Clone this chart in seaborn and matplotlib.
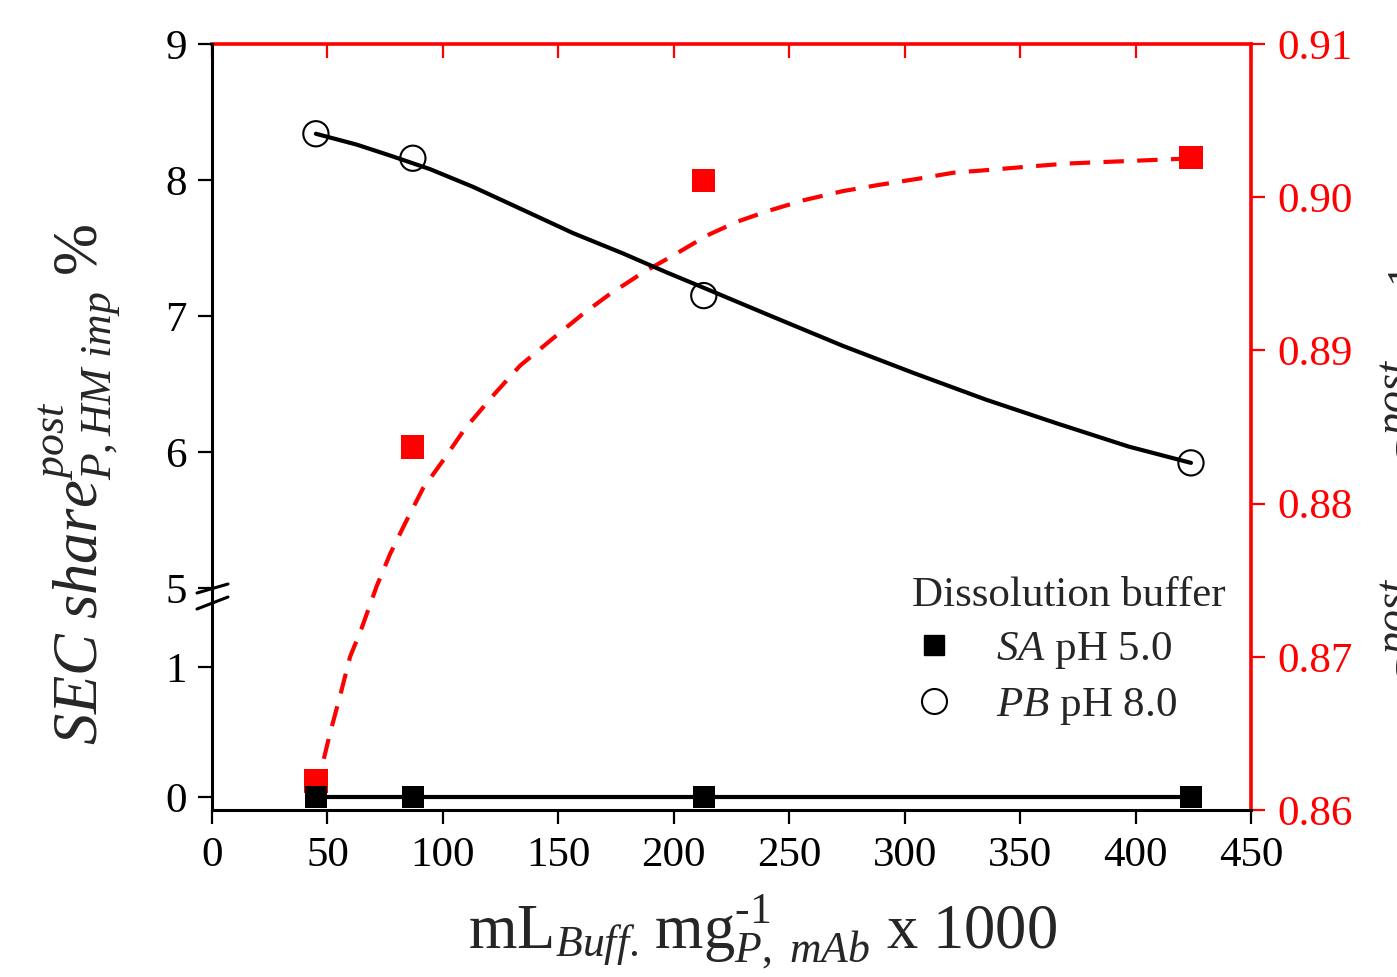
import numpy as np
import pandas as pd
import matplotlib
matplotlib.use("Agg")
import matplotlib.pyplot as plt
from matplotlib.lines import Line2D
import seaborn as sns

# ---------------- data ----------------
x_pts = [45, 87, 213, 424]
sa_share = [0.0, 0.0, 0.0, 0.0]
pb_share = [8.34, 8.16, 7.15, 5.92]
red_ratio = [0.8619, 0.8837, 0.9011, 0.9026]

# fitted curve for PB
pb_fit_x = [45, 62.7, 77.1, 94.4, 113, 134.7, 156.3, 178, 197, 212.6, 242.1,
            273.3, 304, 335.2, 366, 397, 424]
pb_fit_y = [8.34, 8.26, 8.18, 8.08, 7.95, 7.78, 7.61, 7.46, 7.32, 7.21, 7.00,
            6.78, 6.58, 6.385, 6.21, 6.04, 5.92]

# fitted curve for the red series
red_fit_x = [45, 51.1, 55.4, 59.8, 64.9, 71.3, 77.1, 83.6, 91.4, 100, 109.6,
             122.6, 133.4, 147.8, 160.8, 171.6, 186.8, 199.8, 214.4, 227.4,
             240.8, 256.2, 273.3, 288.7, 305.7, 321.2, 338.2, 353.7, 370.7,
             386.7, 403.2, 418.6, 424]
red_fit_y = [0.8612, 0.8650, 0.8674, 0.8700, 0.8719, 0.8746, 0.8767, 0.8787,
             0.8810, 0.8828, 0.8849, 0.8872, 0.8890, 0.8908, 0.8924, 0.8936,
             0.8951, 0.8962, 0.8975, 0.8984, 0.8991, 0.8998, 0.9004, 0.9008,
             0.9012, 0.9016, 0.9018, 0.9020, 0.9022, 0.9023, 0.9024, 0.9025,
             0.9026]

x_ticks = [0, 50, 100, 150, 200, 250, 300, 350, 400, 450]
left_ticks = [0, 1, 5, 6, 7, 8, 9]
right_ticks = [0.86, 0.87, 0.88, 0.89, 0.90, 0.91]
right_ticklabels = ["0.86", "0.87", "0.88", "0.89", "0.90", "0.91"]
legend_title = "Dissolution buffer"
legend_labels = [r"$SA$ pH 5.0", r"$PB$ pH 8.0"]

# ---------------- style ----------------
sns.set_theme(style="ticks")
plt.rcParams["font.family"] = ["Liberation Serif", "DejaVu Serif"]
plt.rcParams["mathtext.fontset"] = "custom"
plt.rcParams["mathtext.rm"] = "Liberation Serif"
plt.rcParams["mathtext.it"] = "Liberation Serif:italic"
plt.rcParams["mathtext.bf"] = "Liberation Serif:bold"
plt.rcParams["lines.solid_joinstyle"] = "round"

W, H = 1397, 977
fig = plt.figure(figsize=(W / 100, H / 100), dpi=100)
L, R, T, B = 212, 1251, 44, 810
ax = fig.add_axes([L / W, 1 - B / H, (R - L) / W, (B - T) / H])
ax2 = ax.twinx()

# broken-axis scale for the left axis (piecewise linear)
_v = np.array([-0.1, 1.5, 4.9, 9.0])
_p = np.array([0.0, 208.0, 208.4, 766.0])


def fwd(v):
    return np.interp(v, _v, _p)


def inv(p):
    return np.interp(p, _p, _v)


ax.set_yscale("function", functions=(fwd, inv))
ax.set_ylim(-0.1, 9.0)
ax.set_xlim(0, 450)
ax2.set_ylim(0.86, 0.91)

# red series on twin axis (drawn beneath)
ax.set_zorder(ax2.get_zorder() + 1)
ax.patch.set_visible(False)

LW = 3.0
sns.lineplot(x=red_fit_x, y=red_fit_y, ax=ax2, color="red", linewidth=LW,
             sort=False, estimator=None)
ax2.lines[-1].set_dashes([4.9, 3.2])
sns.scatterplot(x=x_pts, y=red_ratio, ax=ax2, marker="s", s=280, color="red",
                edgecolor="none", linewidth=0, zorder=3)

# black series on left axis
sns.lineplot(x=pb_fit_x, y=pb_fit_y, ax=ax, color="black", linewidth=LW,
             sort=False, estimator=None)
sns.lineplot(x=x_pts, y=sa_share, ax=ax, color="black", linewidth=LW,
             sort=False, estimator=None)
sns.scatterplot(x=x_pts, y=sa_share, ax=ax, marker="s", s=260, color="black",
                edgecolor="none", linewidth=0, zorder=4)
ax.scatter(x_pts, pb_share, marker="o", s=330, facecolors="none",
           edgecolors="black", linewidths=1.5, zorder=4)

# ---------------- axes styling ----------------
fs = 31
ax.set_xticks(x_ticks)
ax.set_xticklabels([str(t) for t in x_ticks])
ax.set_yticks(left_ticks)
ax.set_yticklabels([str(t) for t in left_ticks])
ax.yaxis.set_minor_locator(matplotlib.ticker.NullLocator())
ax.tick_params(axis="both", which="major", direction="out", length=10,
               width=1.6, labelsize=fs, color="black", labelcolor="black")
ax.tick_params(axis="x", pad=9)
ax.tick_params(axis="y", pad=8)
for s in ["top", "right"]:
    ax.spines[s].set_visible(False)
for s in ["left", "bottom"]:
    ax.spines[s].set_linewidth(2.2)
    ax.spines[s].set_color("black")

ax2.set_yticks(right_ticks)
ax2.set_yticklabels(right_ticklabels)
ax2.tick_params(axis="y", direction="out", length=10, width=1.6,
                labelsize=fs, color="red", labelcolor="red", pad=9)
for s in ["left", "bottom"]:
    ax2.spines[s].set_visible(False)
for s in ["top", "right"]:
    ax2.spines[s].set_color("red")
    ax2.spines[s].set_linewidth(2.6)
ax2.set_ylabel("")

secx = ax.secondary_xaxis("top")
secx.set_xticks(x_ticks)
secx.tick_params(axis="x", direction="in", length=10, width=1.6, color="red",
                 labelsize=0, labeltop=False)
secx.spines["top"].set_visible(False)
ax.set_xlabel("")
ax.set_ylabel("")

# axis break marks on left spine
for y0, y1 in [(593, 584), (609, 597)]:
    fig.add_artist(Line2D([197 / W, 228 / W], [1 - y0 / H, 1 - y1 / H],
                          color="black", lw=2.2, transform=fig.transFigure))

# axis labels
fig.text(80 / W, 1 - 484 / H,
         r"$SEC\ share^{post}_{P,HM\ imp}\ \mathrm{\%}$",
         rotation=90, ha="center", va="center", fontsize=45)
fig.text(762 / W, 1 - 948 / H,
         r"$\mathrm{mL}_{Buff.}\,\mathrm{mg}^{\text{-1}}_{P,\ mAb}\ \mathrm{x\ 1000}$",
         ha="center", va="baseline", fontsize=45)
fig.text(1379 / W, 1 - 266 / H,
         r"$S^{post}_{P,mono}\ \ \ S^{post}_{P,tot}\ \ \ {}^{\text{-1}}$",
         rotation=90, ha="left", va="top", fontsize=45)

# legend
handles = [Line2D([], [], marker="s", color="black", linestyle="none",
                  markersize=15),
           Line2D([], [], marker="o", markerfacecolor="none",
                  markeredgecolor="black", linestyle="none", markersize=18,
                  markeredgewidth=1.5)]
leg = ax.legend(handles, legend_labels, title=legend_title, loc="upper left",
                bbox_to_anchor=(912 / W, 1 - 576 / H),
                bbox_transform=fig.transFigure, frameon=False, fontsize=fs,
                title_fontsize=fs, alignment="left", handlelength=1.0,
                handletextpad=0.95, labelspacing=0.35, borderpad=0,
                borderaxespad=0)

fig.savefig("out.png", dpi=100)
